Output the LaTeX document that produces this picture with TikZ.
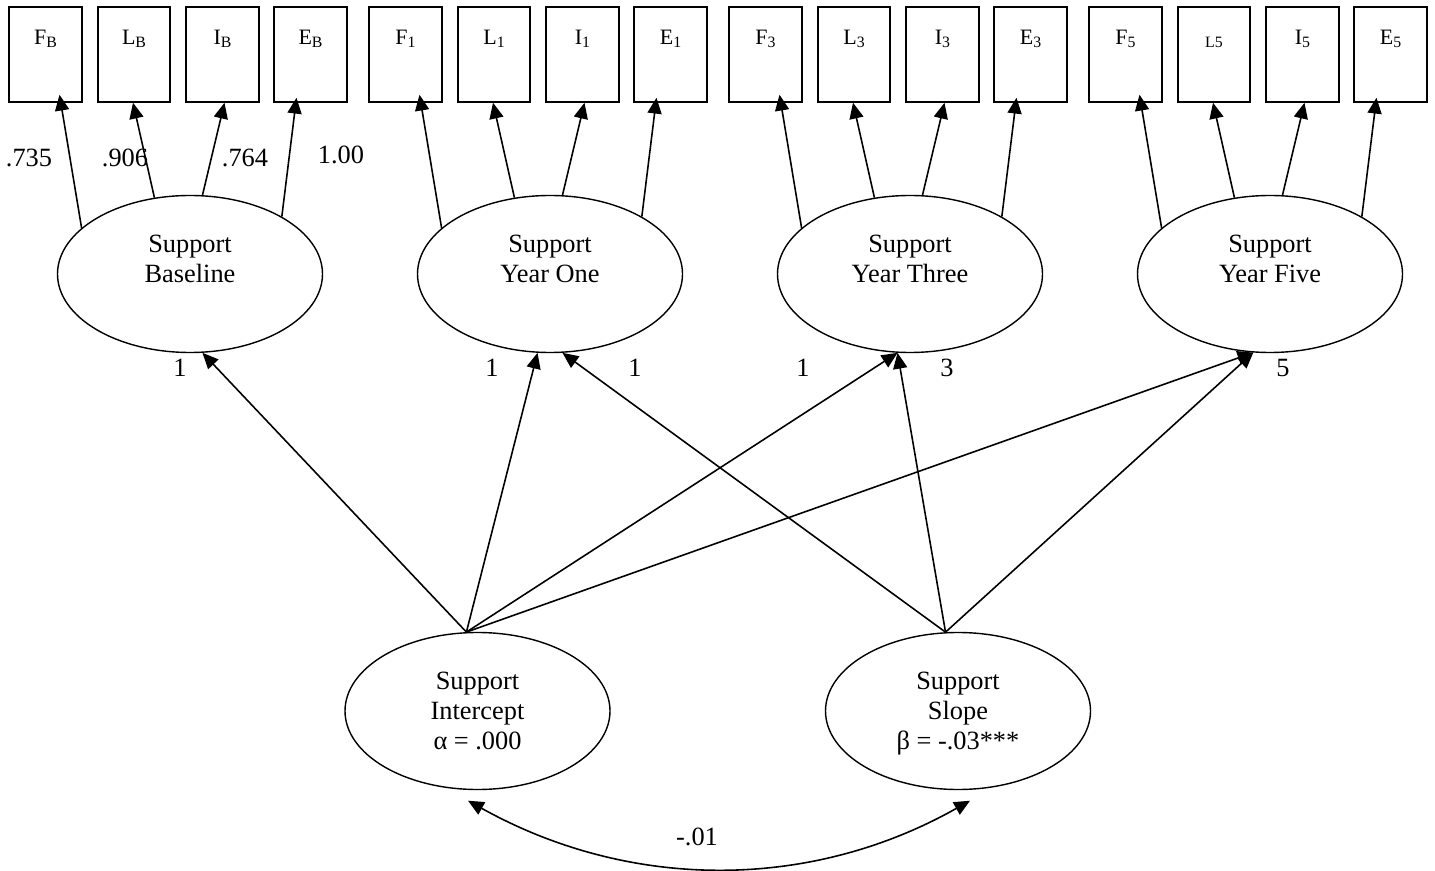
\documentclass[tikz,border=0pt]{standalone}
\usepackage{fontspec}
\setmainfont{Liberation Serif}
\usetikzlibrary{arrows.meta,shapes.geometric,calc}

\newcommand{\lsub}[1]{\raisebox{-1.9pt}{\fontsize{9}{10}\selectfont #1}}

\tikzset{
    obs/.style={draw,rectangle,line width=1.2pt,inner sep=0pt,minimum width=1.454cm,
        text height=0.74cm,text depth=1.148cm,font=\fontsize{12.5}{15}\selectfont},
    lat/.style={draw,ellipse,line width=0.8pt,inner sep=0pt,minimum width=5.3cm,
        minimum height=3.14cm,align=center,text depth=0pt,font=\fontsize{15}{17}\selectfont},
    freccia/.style={->,line width=0.9pt},
    peso/.style={inner sep=0pt,font=\fontsize{15}{17}\selectfont}
}

\begin{document}
\begin{tikzpicture}[>={Triangle[length=9pt,width=8pt]}]
                \useasboundingbox (0,0) rectangle (28.7,-17.42);

                %16 indicatori
                \node[obs] (fB) at (0.91,-1.09) {F\lsub{B}};
                \node[obs] (lB) at (2.68,-1.09) {L\lsub{B}};
                \node[obs] (iB) at (4.45,-1.09) {I\lsub{B}};
                \node[obs] (eB) at (6.21,-1.09) {E\lsub{B}};
                \node[obs] (f1) at (8.11,-1.09) {F\lsub{1}};
                \node[obs] (l1) at (9.88,-1.09) {L\lsub{1}};
                \node[obs] (i1) at (11.65,-1.09) {I\lsub{1}};
                \node[obs] (e1) at (13.41,-1.09) {E\lsub{1}};
                \node[obs] (f3) at (15.31,-1.09) {F\lsub{3}};
                \node[obs] (l3) at (17.08,-1.09) {L\lsub{3}};
                \node[obs] (i3) at (18.85,-1.09) {I\lsub{3}};
                \node[obs] (e3) at (20.61,-1.09) {E\lsub{3}};
                \node[obs] (f5) at (22.51,-1.09) {F\lsub{5}};
                \node[obs] (l5) at (24.28,-1.09) {\lsub{L5}};
                \node[obs] (i5) at (26.05,-1.09) {I\lsub{5}};
                \node[obs] (e5) at (27.81,-1.09) {E\lsub{5}};

                %4 fattori + intercetta e pendenza
                \node[lat] (base) at (3.8,-5.48) {Support\\Baseline\\\mbox{}};
                \node[lat] (one) at (11.0,-5.48) {Support\\Year One\\\mbox{}};
                \node[lat] (three) at (18.2,-5.48) {Support\\Year Three\\\mbox{}};
                \node[lat] (five) at (25.4,-5.48) {Support\\Year Five\\\mbox{}};
                \node[lat] (int) at (9.55,-14.22) {Support\\Intercept\\α = .000};
                \node[lat] (slope) at (19.16,-14.22) {Support\\Slope\\β = -.03***};

                \draw[freccia] (base.157) -- ([xshift=0.28cm,yshift=0.16cm]fB.south);
                \draw[freccia] (base.115) -- ([xshift=-0.02cm]lB.south);
                \draw[freccia] (base.81) -- ([xshift=0.04cm]iB.south);
                \draw[freccia] (base.32) -- ([xshift=-0.28cm,yshift=0.1cm]eB.south);
                \draw[freccia] (one.157) -- ([xshift=0.28cm,yshift=0.16cm]f1.south);
                \draw[freccia] (one.115) -- ([xshift=-0.02cm]l1.south);
                \draw[freccia] (one.81) -- ([xshift=0.04cm]i1.south);
                \draw[freccia] (one.32) -- ([xshift=-0.28cm,yshift=0.1cm]e1.south);
                \draw[freccia] (three.157) -- ([xshift=0.28cm,yshift=0.16cm]f3.south);
                \draw[freccia] (three.115) -- ([xshift=-0.02cm]l3.south);
                \draw[freccia] (three.81) -- ([xshift=0.04cm]i3.south);
                \draw[freccia] (three.32) -- ([xshift=-0.28cm,yshift=0.1cm]e3.south);
                \draw[freccia] (five.157) -- ([xshift=0.28cm,yshift=0.16cm]f5.south);
                \draw[freccia] (five.115) -- ([xshift=-0.02cm]l5.south);
                \draw[freccia] (five.81) -- ([xshift=0.04cm]i5.south);
                \draw[freccia] (five.32) -- ([xshift=-0.28cm,yshift=0.1cm]e5.south);

                \draw[freccia] (int.98) -- (base.279);
                \draw[freccia] (int.98) -- (one.261);
                \draw[freccia] (int.98) -- (three.261);
                \draw[freccia] (int.98) -- (five.258);
                \draw[freccia] (slope.99) -- (one.279);
                \draw[freccia] (slope.99) -- (three.261);
                \draw[freccia] (slope.99) -- (five.258);

                \draw[<->,line width=0.9pt] ($(int.south)+(-0.19,-0.21)$)
                    .. controls (12.6,-17.82) and (16.2,-17.82) .. ($(slope.south)+(0.24,-0.21)$);

                %pesi
                \node[peso] (w1) at (0.58,-3.15) {.735};
                \node[peso] (w2) at (2.5,-3.15) {.906};
                \node[peso] (w3) at (4.9,-3.15) {.764};
                \node[peso] (w4) at (6.82,-3.1) {1.00};
                \node[peso] (t1) at (3.6,-7.36) {1};
                \node[peso] (t2) at (9.84,-7.36) {1};
                \node[peso] (t3) at (12.7,-7.36) {1};
                \node[peso] (t4) at (16.06,-7.36) {1};
                \node[peso] (t5) at (18.94,-7.36) {3};
                \node[peso] (t6) at (25.66,-7.36) {5};
                \node[peso] (r1) at (13.94,-16.74) {-.01};

            \end{tikzpicture}
\end{document}
